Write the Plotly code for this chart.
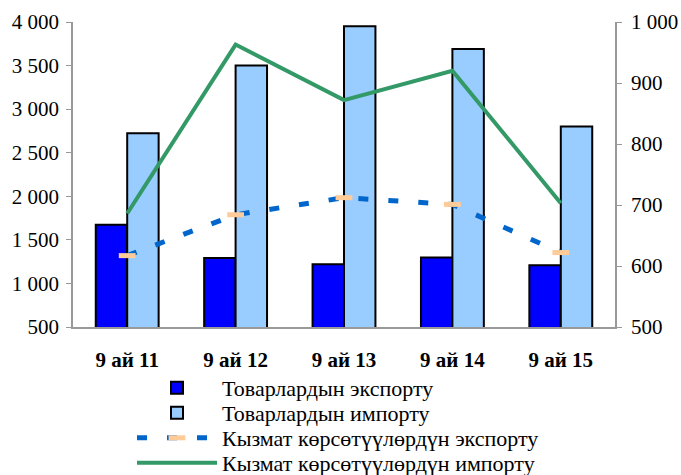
import plotly.graph_objects as go

categories = ["9 ай 11", "9 ай 12", "9 ай 13", "9 ай 14", "9 ай 15"]
goods_export = [1672, 1293, 1220, 1298, 1210]
goods_import = [2722, 3500, 3950, 3690, 2800]
services_export = [617, 684, 712, 701, 622]
services_import = [686, 963, 872, 920, 703]

names = ["Товарлардын экспорту", "Товарлардын импорту",
         "Кызмат көрсөтүүлөрдүн экспорту", "Кызмат көрсөтүүлөрдүн импорту"]

FONT = "Liberation Serif"
W, H = 681, 475
L, R, T, B = 73, 66, 22, 148
PW, PH = W - L - R, H - T - B

fig = go.Figure()
fig.add_trace(go.Bar(x=categories, y=goods_export, name=names[0], legend="legend",
                     marker=dict(color="#0000FF", line=dict(color="black", width=2))))
fig.add_trace(go.Bar(x=categories, y=goods_import, name=names[1], legend="legend2",
                     marker=dict(color="#99CCFF", line=dict(color="black", width=2))))
fig.add_trace(go.Scatter(x=categories, y=services_export, name=names[2], yaxis="y2",
                         legend="legend3", mode="lines+markers",
                         line=dict(color="#0066CC", width=5, dash="10px,20px"),
                         marker=dict(symbol="line-ew", size=12,
                                     line=dict(color="#FFCC99", width=5))))
fig.add_trace(go.Scatter(x=categories, y=services_import, name=names[3], yaxis="y2",
                         legend="legend4", mode="lines",
                         line=dict(color="#339966", width=4)))


def leg(row_y):
    return dict(x=(132 - L) / PW, y=(H - B - row_y) / PH,
                xanchor="left", yanchor="middle", itemwidth=80,
                font=dict(family=FONT, size=22), bgcolor="rgba(0,0,0,0)")


fig.update_layout(
    width=W, height=H,
    margin=dict(l=L, r=R, t=T, b=B, autoexpand=False),
    plot_bgcolor="white", paper_bgcolor="white",
    font=dict(family=FONT, size=21, color="black"),
    separators=", ",
    barmode="group", bargap=0.42, bargroupgap=0,
    showlegend=True,
    legend=leg(388), legend2=leg(413), legend3=leg(438), legend4=leg(463),
    xaxis=dict(showline=True, linecolor="#999999", linewidth=1.5, ticks="",
               tickfont=dict(family=FONT, size=21, color="black", weight="bold"),
               ticklabelstandoff=13, showgrid=False, automargin=False),
    yaxis=dict(range=[500, 4000], dtick=500, showline=True, linecolor="#999999",
               linewidth=1.5, ticks="outside", ticklen=5, tickcolor="#999999",
               ticklabelstandoff=3,
               separatethousands=True, showgrid=False, zeroline=False,
               automargin=False, tickfont=dict(family=FONT, size=21)),
    yaxis2=dict(range=[500, 1000], dtick=100, overlaying="y", side="right",
                showline=True, linecolor="#999999", linewidth=1.5,
                ticks="outside", ticklen=5, tickcolor="#999999",
                ticklabelstandoff=5,
                separatethousands=True, showgrid=False, zeroline=False,
                automargin=False, tickfont=dict(family=FONT, size=21)),
)

fig.write_html("out.html", config={"displayModeBar": False},
               post_script="document.body.style.margin='0';document.body.style.overflow='hidden';")
